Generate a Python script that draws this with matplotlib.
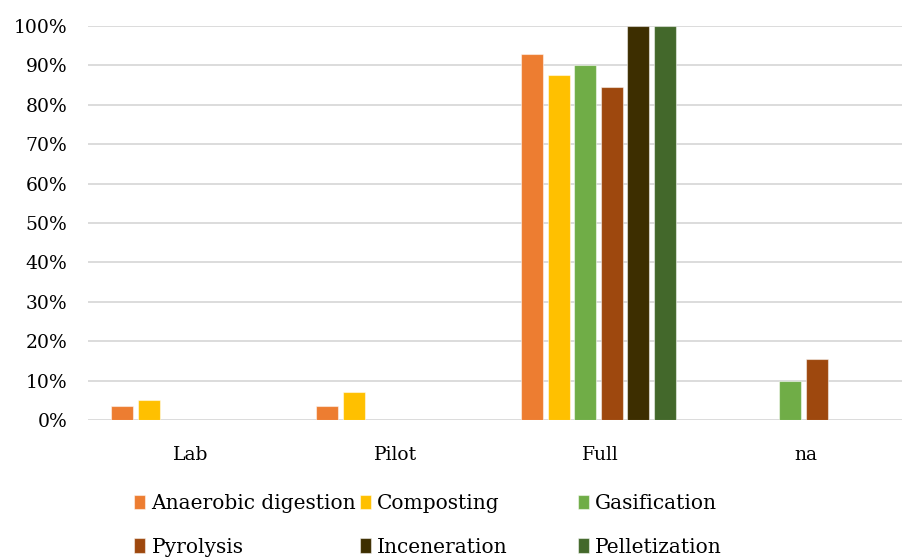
import matplotlib.pyplot as plt
import numpy as np

plt.rcParams['font.family'] = ['DejaVu Serif']

categories = ["Lab", "Pilot", "Full", "na"]
series = ["Anaerobic digestion", "Composting", "Gasification",
          "Pyrolysis", "Inceneration", "Pelletization"]
colors = ["#ED7D31", "#FFC000", "#70AD47", "#9E480E", "#3D2E00", "#43682B"]

# percentages per technology, in order Lab, Pilot, Full, na
anaerobic = [3.5, 3.5, 93.0, 0]
composting = [5.0, 7.0, 87.5, 0]
gasification = [0, 0, 90.0, 10.0]
pyrolysis = [0, 0, 84.5, 15.4]
inceneration = [0, 0, 100.0, 0]
pelletization = [0, 0, 100.0, 0]
values = [anaerobic, composting, gasification, pyrolysis, inceneration, pelletization]

fig = plt.figure(figsize=(9.02, 5.59), dpi=100)
ax = fig.add_axes([0.0976, 0.2487, 0.9024, 0.7048])

x = np.arange(len(categories))
pitch = 0.129
width = 0.107
bars = []
for i, (vals, c) in enumerate(zip(values, colors)):
    b = ax.bar(x + (i - 2.5) * pitch - 0.01, vals, width, color=c,
               edgecolor=(1, 1, 1, 0.5), linewidth=0.8, zorder=3, label=series[i])
    bars.append(b)

ax.set_ylim(0, 100)
ax.set_xlim(-0.5, 3.47)
ax.set_yticks(np.arange(0, 101, 10))
ax.set_yticklabels(["{}%".format(v) for v in range(0, 101, 10)])
ax.set_xticks(x)
ax.set_xticklabels(categories)
ax.tick_params(axis='both', length=0, labelsize=13.5)
ax.tick_params(axis='x', pad=19)
ax.tick_params(axis='y', pad=15)
ax.yaxis.grid(True, color='#D9D9D9', linewidth=1.3, zorder=0)
for s in ax.spines.values():
    s.set_visible(False)

# legend: three columns of two entries, equal column widths
col_x = [0.149, 0.399, 0.641]
for k in range(3):
    handles = [bars[k], bars[k + 3]]
    labels = [series[k], series[k + 3]]
    leg = fig.legend(handles, labels, loc='center left', bbox_to_anchor=(col_x[k], 0.0600),
                     frameon=False, fontsize=14.5, handlelength=0.55, handleheight=0.7,
                     handletextpad=0.3, labelspacing=1.2, borderpad=0, borderaxespad=0)

fig.savefig("out.png", dpi=100)
